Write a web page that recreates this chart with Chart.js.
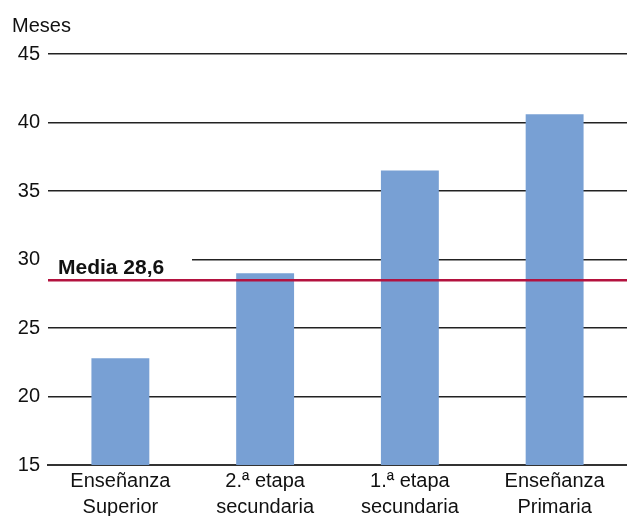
<!DOCTYPE html>
<html>
<head>
<meta charset="utf-8">
<script src="https://cdn.jsdelivr.net/npm/chart.js@4"></script>
<style>
  html, body { margin: 0; padding: 0; background: #ffffff; }
  #wrap { width: 627px; height: 516px; position: relative; }
</style>
</head>
<body>
<div id="wrap"><canvas id="c" width="627" height="516"></canvas></div>
<script>
const categories = [
  ['Enseñanza', 'Superior'],
  ['2.ª etapa', 'secundaria'],
  ['1.ª etapa', 'secundaria'],
  ['Enseñanza', 'Primaria']
];
const months = [22.8, 29.0, 36.5, 40.6];
const mediaValue = 28.6;
const mediaLabel = 'Media 28,6';
const yAxisUnit = 'Meses';
const yTicks = [15, 20, 25, 30, 35, 40, 45];

const FONT = "'Liberation Sans', Arial, sans-serif";

const overlay = {
  id: 'overlay',
  afterDatasetsDraw(chart) {
    const ctx = chart.ctx;
    const area = chart.chartArea;
    const y = chart.scales.y;
    const ym = y.getPixelForValue(mediaValue);
    ctx.save();
    // white box behind label
    ctx.fillStyle = '#ffffff';
    ctx.fillRect(area.left, ym - 30, 144, 26);
    // media line
    ctx.strokeStyle = '#B3123F';
    ctx.lineWidth = 2.5;
    ctx.beginPath();
    ctx.moveTo(area.left, ym + 1.5);
    ctx.lineTo(area.right, ym + 1.5);
    ctx.stroke();
    // label
    ctx.fillStyle = '#111111';
    ctx.font = "bold 21px " + FONT;
    ctx.textAlign = 'left';
    ctx.textBaseline = 'alphabetic';
    ctx.fillText(mediaLabel, area.left + 10, ym - 5);
    // unit
    ctx.font = "20px " + FONT;
    ctx.fillStyle = '#111111';
    ctx.fillText(yAxisUnit, 12, 32);
    ctx.restore();
  }
};

new Chart(document.getElementById('c'), {
  type: 'bar',
  data: {
    labels: categories,
    datasets: [{
      data: months,
      backgroundColor: '#78A0D4',
      borderWidth: 0,
      categoryPercentage: 0.8,
      barPercentage: 0.5
    }]
  },
  options: {
    responsive: false,
    animation: false,
    devicePixelRatio: 1,
    layout: { padding: { top: 54, right: 0, bottom: 0, left: 0 } },
    plugins: { legend: { display: false }, tooltip: { enabled: false } },
    scales: {
      x: {
        afterFit(scale) { scale.height = 51; },
        grid: { display: false, drawTicks: false },
        border: { display: true, color: '#333333', width: 2 },
        ticks: {
          color: '#111111',
          font: { family: FONT, size: 20, lineHeight: 1.3 },
          padding: 3,
          maxRotation: 0,
          autoSkip: false
        }
      },
      y: {
        min: 15,
        max: 45,
        afterFit(scale) { scale.width = 48; },
        afterBuildTicks(scale) { scale.ticks = yTicks.map(v => ({ value: v })); },
        grid: { color: '#222222', lineWidth: 1.5, drawTicks: false },
        border: { display: false },
        ticks: {
          color: '#111111',
          font: { family: FONT, size: 20 },
          padding: 8
        }
      }
    }
  },
  plugins: [overlay]
});
</script>
</body>
</html>
